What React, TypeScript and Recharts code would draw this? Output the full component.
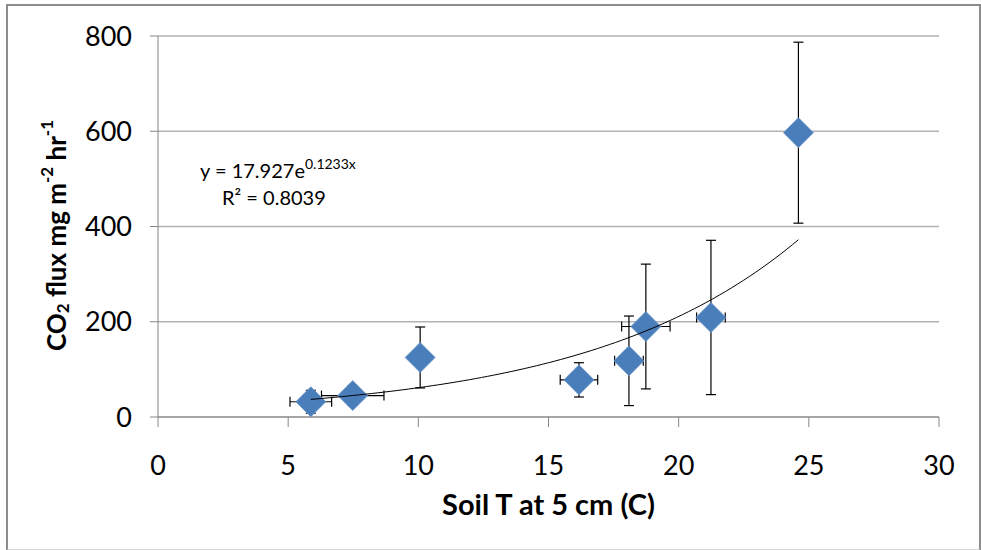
import React from 'react';
import { ScatterChart, Scatter, XAxis, YAxis, CartesianGrid, ErrorBar } from 'recharts';

// Soil temperature at 5 cm (°C) and CO2 flux (mg m-2 hr-1), with standard errors
const soilTemp = [5.87, 7.48, 10.07, 16.17, 18.09, 18.74, 21.24, 24.6];
const co2Flux = [32, 45, 125, 78, 118, 190, 209, 597];
const tempErr = [0.8, 1.2, 0, 0.72, 0.55, 0.93, 0.55, 0];
const fluxErr = [24, 20, 64, 36, 94, 131, 162, 190];

const xTicks = [0, 5, 10, 15, 20, 25, 30];
const yTicks = [0, 200, 400, 600, 800];

// Exponential fit y = a·e^(b·x), as printed on the chart
const fitA = 17.927;
const fitB = 0.1233;
const fitLabel = 'y = 17.927e';
const fitExpLabel = '0.1233x';
const r2Label = '0.8039';
const fitStart = soilTemp[0];
const fitEnd = soilTemp[soilTemp.length - 1];
const fitSteps = 80;

const points = soilTemp.map((t, i) => ({
  t,
  flux: co2Flux[i],
  tErr: tempErr[i],
  fErr: fluxErr[i],
}));

const fitCurve = Array.from({ length: fitSteps + 1 }, (_, i) => {
  const t = fitStart + ((fitEnd - fitStart) * i) / fitSteps;
  return { t, flux: fitA * Math.exp(fitB * t) };
});

const FONT = 'Lato, Carlito, Calibri, sans-serif';
const AXIS_GREY = '#868686';
const GRID_GREY = '#b3b3b3';
const MARKER_BLUE = '#4a7ebb';

const Diamond = (props: any) => {
  const { cx, cy } = props;
  if (cx == null || cy == null) return null;
  const r = 15;
  return (
    <polygon
      points={`${cx},${cy - r} ${cx + r},${cy} ${cx},${cy + r} ${cx - r},${cy}`}
      fill={MARKER_BLUE}
      stroke="#6d98cc"
      strokeWidth={0.8}
    />
  );
};

const NoDot = () => null;

const YTitle = (props: any) => {
  const vb = props.viewBox || {};
  const cx = 56;
  const cy = (vb.y ?? 36) + (vb.height ?? 381) / 2 + 9;
  return (
    <text
      x={cx}
      y={cy}
      transform={`rotate(-90, ${cx}, ${cy})`}
      textAnchor="middle"
      dominantBaseline="central"
      fontFamily={FONT}
      fontWeight={700}
      fontSize={26}
      fill="#000"
    >
      CO
      <tspan fontSize={17} dy={6}>2</tspan>
      <tspan dy={-6}> flux mg m</tspan>
      <tspan fontSize={17} dy={-10}>-2</tspan>
      <tspan dy={10}> hr</tspan>
      <tspan fontSize={17} dy={-10}>-1</tspan>
    </text>
  );
};

const XTitle = (props: any) => {
  const vb = props.viewBox || {};
  const cx = (vb.x ?? 158) + (vb.width ?? 781) / 2;
  return (
    <text
      x={cx}
      y={503}
      textAnchor="middle"
      dominantBaseline="central"
      fontFamily={FONT}
      fontWeight={700}
      fontSize={29}
      fill="#000"
    >
      Soil T at 5 cm (C)
    </text>
  );
};

export default function App() {
  return (
    <div
      style={{
        position: 'absolute',
        left: 0,
        top: 0,
        width: 981,
        height: 550,
        background: '#fff',
      }}
    >
      <div
        style={{
          position: 'absolute',
          left: 6,
          top: 4,
          width: 971,
          height: 543,
          border: '2px solid #8c8c8c',
          borderBottomColor: '#d9d9d9',
        }}
      />
      <ScatterChart
        width={981}
        height={550}
        margin={{ top: 36, right: 42, bottom: 73, left: 0 }}
        style={{ position: 'absolute', left: 0, top: 0 }}
      >
        <CartesianGrid horizontal vertical={false} stroke={GRID_GREY} strokeWidth={1.3} />
        <XAxis
          type="number"
          dataKey="t"
          domain={[0, 30]}
          ticks={xTicks}
          interval={0}
          height={60}
          stroke={AXIS_GREY}
          tickSize={10}
          tickMargin={29}
          tick={{ fontFamily: FONT, fontSize: 27, fill: '#000' }}
          tickLine={{ stroke: AXIS_GREY }}
          label={<XTitle />}
          allowDataOverflow
        />
        <YAxis
          type="number"
          dataKey="flux"
          domain={[0, 800]}
          ticks={yTicks}
          interval={0}
          width={158}
          stroke={AXIS_GREY}
          tickSize={8}
          tickMargin={18}
          tick={{ fontFamily: FONT, fontSize: 27, fill: '#000' }}
          tickLine={{ stroke: AXIS_GREY }}
          label={<YTitle />}
          allowDataOverflow
        />
        <Scatter data={points} shape={<Diamond />} isAnimationActive={false}>
          <ErrorBar dataKey="fErr" direction="y" width={5} stroke="#000" strokeWidth={1.2} />
          <ErrorBar dataKey="tErr" direction="x" width={5} stroke="#000" strokeWidth={1.2} />
        </Scatter>
        <Scatter
          data={fitCurve}
          line={{ stroke: '#000', strokeWidth: 1 }}
          lineType="joint"
          shape={<NoDot />}
          isAnimationActive={false}
        />
        <text x={200} y={170} dominantBaseline="central" fontFamily={FONT} fontSize={20} fill="#000">
          {fitLabel}
          <tspan fontSize={14} dy={-7}>{fitExpLabel}</tspan>
        </text>
        <text x={222} y={197} dominantBaseline="central" fontFamily={FONT} fontSize={20} fill="#000">
          R² = {r2Label}
        </text>
      </ScatterChart>
    </div>
  );
}
